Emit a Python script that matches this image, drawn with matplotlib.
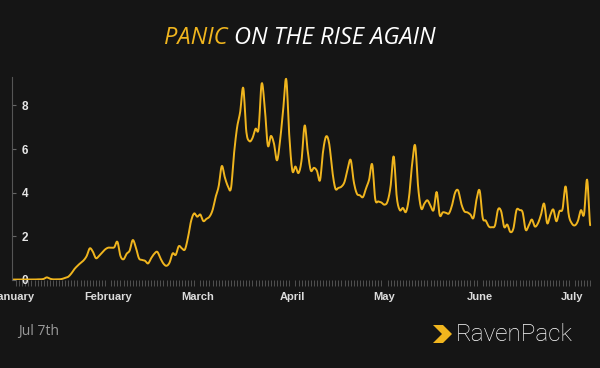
import numpy as np
import pandas as pd
import matplotlib
matplotlib.use("Agg")
import matplotlib.pyplot as plt
import matplotlib.dates as mdates
from matplotlib.patches import Polygon

# daily panic index, Jan 1 -> Jul 7 2020
start = "2020-01-01"
panic = [
    0.02, 0.02, 0.02, 0.02, 0.02, 0.02, 0.02, 0.02, 0.03, 0.03,
    0.05, 0.12, 0.06, 0.03, 0.03, 0.03, 0.05, 0.10, 0.15, 0.30,
    0.50, 0.65, 0.78, 0.90, 1.10, 1.45, 1.30, 1.00, 1.10, 1.25,
    1.40, 1.48, 1.48, 1.50, 1.75, 1.10, 0.95, 1.20, 1.35, 1.83,
    1.50, 1.00, 0.92, 0.88, 0.76, 1.00, 1.20, 1.29, 1.00, 0.75,
    0.65, 0.80, 1.22, 1.15, 1.55, 1.45, 1.40, 1.95, 2.70, 3.05,
    2.90, 3.00, 2.70, 2.80, 2.90, 3.20, 3.80, 4.30, 5.22, 4.70,
    4.30, 4.20, 5.80, 7.00, 7.70, 8.80, 6.80, 6.36, 6.50, 6.93,
    6.93, 9.00, 7.90, 6.16, 6.60, 6.25, 5.48, 6.40, 7.80, 9.20,
    6.60, 5.00, 5.20, 4.90, 5.50, 7.08, 5.90, 5.02, 5.14, 5.00,
    4.57, 5.90, 6.58, 6.24, 5.00, 4.19, 4.22, 4.28, 4.50, 5.10,
    5.50, 4.50, 3.96, 3.88, 3.80, 4.20, 4.60, 5.30, 3.70, 3.60,
    3.55, 3.45, 3.60, 4.30, 5.66, 3.80, 3.20, 3.30, 3.12, 3.80,
    5.30, 6.16, 4.20, 3.27, 3.50, 3.65, 3.40, 3.20, 4.03, 2.97,
    3.10, 3.08, 3.05, 3.42, 4.00, 4.10, 3.50, 3.15, 3.10, 3.00,
    2.85, 3.70, 4.10, 2.85, 2.72, 2.45, 2.42, 2.50, 3.23, 3.15,
    2.43, 2.54, 2.20, 2.36, 3.20, 3.20, 3.10, 2.30, 2.50, 2.77,
    2.45, 2.60, 3.00, 3.50, 2.60, 2.97, 3.23, 2.69, 3.15, 3.25,
    4.29, 3.00, 2.60, 2.50, 2.70, 3.20, 3.00, 4.60, 2.51,
]
yticks = [0, 2, 4, 6, 8]
month_labels = ["January", "February", "March", "April", "May", "June", "July"]

bg = "#151515"
gold = "#f0b51e"

dates = pd.date_range(start, periods=len(panic), freq="D")
x = mdates.date2num(dates)

# smooth the daily series a bit like the original spline line
xs = np.linspace(x[0], x[-1], len(x) * 8)
def catmull(xp, yp, xn):
    yp = np.asarray(yp)
    out = np.empty_like(xn)
    for k, xv in enumerate(xn):
        i = min(int(xv - xp[0]), len(xp) - 2)
        t = xv - xp[i]
        p0 = yp[max(i - 1, 0)]
        p1 = yp[i]
        p2 = yp[i + 1]
        p3 = yp[min(i + 2, len(yp) - 1)]
        out[k] = 0.5 * ((2 * p1) + (-p0 + p2) * t + (2 * p0 - 5 * p1 + 4 * p2 - p3) * t ** 2
                        + (-p0 + 3 * p1 - 3 * p2 + p3) * t ** 3)
    return out
ys = catmull(x, panic, xs)

fig = plt.figure(figsize=(6, 3.68), dpi=100, facecolor=bg)
ax = fig.add_axes([12 / 600, 1 - 280 / 368, 580 / 600, 203 / 368])
ax.set_facecolor(bg)

ax.plot(xs, ys, color=gold, lw=1.4, solid_capstyle="round")

ax.set_xlim(x[0] - 0.33, x[-1] + 0.6)
ax.set_ylim(0, 9.3)

for s in ["top", "right", "bottom"]:
    ax.spines[s].set_visible(False)
ax.spines["left"].set_color("#555555")
ax.spines["left"].set_linewidth(0.8)

ax.set_yticks(yticks)
ax.set_yticklabels([str(v) for v in yticks])
ax.tick_params(axis="y", direction="in", length=3, width=0.8, color="#666666",
               pad=-7, labelsize=8.5, labelcolor="#e6e6e6")
for lbl in ax.get_yticklabels():
    lbl.set_ha("left")
    lbl.set_fontweight("bold")

month_starts = mdates.date2num(pd.date_range(start, periods=7, freq="MS"))
ax.set_xticks(month_starts)
ax.set_xticklabels(month_labels)
ax.set_xticks(x, minor=True)
ax.tick_params(axis="x", which="major", length=0, pad=9, labelsize=8,
               labelcolor="#dcdcdc")
ax.tick_params(axis="x", which="minor", length=4, width=0.6, color="#5a5a5a")
for lbl in ax.get_xticklabels():
    lbl.set_fontweight("bold")
    lbl.set_fontfamily(["Liberation Sans Narrow", "Liberation Sans"])
for lbl in ax.get_yticklabels():
    lbl.set_fontfamily(["Liberation Sans Narrow", "Liberation Sans"])

# title: first word in gold
t1 = fig.text(0.5, 1 - 38 / 368, "PANIC ", color=gold, fontsize=17, style="italic",
              family="Open Sans", ha="right", va="center")
fig.canvas.draw()
t_full = fig.text(0.5, 1 - 38 / 368, "PANIC ON THE RISE AGAIN", fontsize=17,
                  style="italic", family="Open Sans", ha="center", va="center",
                  color="none")
bb = t_full.get_window_extent(fig.canvas.get_renderer())
left = bb.x0 / fig.bbox.width
t_full.remove()
t1.set_x(left)
t1.set_ha("left")
bb1 = t1.get_window_extent(fig.canvas.get_renderer())
fig.text(bb1.x1 / fig.bbox.width, 1 - 38 / 368, "ON THE RISE AGAIN", color="white",
         fontsize=17, style="italic", family="Open Sans", ha="left", va="center")

fig.text(18 / 600, 1 - 332 / 368, "Jul 7th", color="#9a9a9a", fontsize=10,
         family="Open Sans", ha="left", va="center")

# logo chevron + wordmark
pts = [(433, 325), (443, 325), (452, 334), (443, 343), (433, 343), (442, 334)]
fig.patches.append(Polygon([(px / 600, 1 - py / 368) for px, py in pts],
                           closed=True, transform=fig.transFigure,
                           facecolor=gold, edgecolor="none"))
fig.text(456 / 600, 1 - 334 / 368, "RavenPack", color="white", fontsize=17.5,
         family="Roboto", fontweight="light", ha="left", va="center")

fig.savefig("out.png", dpi=100, facecolor=bg)
